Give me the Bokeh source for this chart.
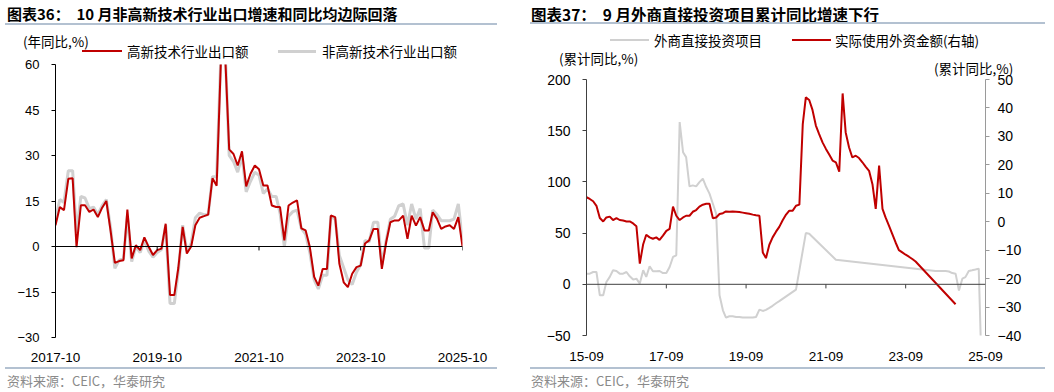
import pandas as pd
from bokeh.plotting import figure
from bokeh.models import (Range1d, LinearAxis, FixedTicker, DatetimeTickFormatter, Span,
                          ColumnDataSource, Div)
from bokeh.layouts import row, column
from bokeh.embed import file_html
from bokeh.resources import INLINE

CJK = "Noto Sans CJK SC"
LAT = "Liberation Sans"
RED = "#c00000"
GRAY = "#d0d0d0"
RULE = "#b3c1d1"


def month_seq(start, n):
    p0 = pd.Period(start, "M")
    return [(p0 + k).strftime("%Y-%m") for k in range(n)]


# ---------------- Chart 36 data (monthly, 2017-10 .. 2025-10) ----------------
title36 = "图表36：  10 月非高新技术行业出口增速和同比均边际回落"
unit36 = "(年同比,%)"
name_hi = "高新技术行业出口额"
name_non = "非高新技术行业出口额"
exp_start, exp_end = "2017-10", "2025-10"
hitech_exports = [7.0, 13.0, 12.0, 22.3, 22.5, -0.2, 13.6, 13.6, 11.4, 12.2, 9.7, 12.8, 15.0, 5.0,
                  -5.4, -4.8, -4.5, 12.2, -3.9, 0.4, -1.2, 3.0, -0.1, -2.8, -1.2, -0.7, 7.5, -16.0,
                  -16.0, -7.0, 6.5, -2.3, 0.0, 7.0, 9.5, 10.0, 10.5, 22.5, 20.0, 62.0, 62.0, 32.0,
                  30.5, 26.7, 31.4, 19.8, 24.0, 26.7, 25.5, 20.1, 20.1, 13.5, 13.0, 13.0, 2.0, 13.5,
                  14.5, 15.2, 6.0, 5.3, -0.2, -10.0, -12.9, -7.4, -7.4, 10.2, 9.7, -5.7, -11.8,
                  -13.4, -9.0, -6.8, -6.3, 1.0, 2.0, 5.8, 5.8, -7.4, 1.4, 8.0, 8.6, 8.6, 10.2, 2.5,
                  10.2, 6.9, 9.7, 5.3, 5.3, 11.3, 9.1, 5.8, 6.6, 7.0, 5.8, 9.7, 0.0]
nonhitech_exports = [9.0, 15.5, 14.5, 25.0, 25.0, 4.5, 16.5, 16.0, 12.5, 13.0, 10.5, 13.5, 15.5, 6.0,
                     -7.2, -4.5, -4.0, 10.0, -5.0, 0.0, -2.0, 2.0, -1.5, -3.5, -2.0, -1.0, 7.0,
                     -18.8, -18.8, -8.0, 7.0, -1.5, 1.0, 9.5, 11.0, 10.5, 10.5, 23.0, 23.0, 64.0,
                     64.0, 30.0, 28.0, 24.5, 30.0, 18.0, 21.5, 24.5, 23.5, 17.5, 19.0, 16.5, 16.5,
                     11.0, 0.0, 10.0, 11.5, 12.0, 6.0, 4.0, -2.0, -11.0, -14.0, -9.5, -9.5, 10.0,
                     9.0, -3.0, -7.0, -11.0, -12.5, -8.5, -6.0, 2.0, 1.5, 8.0, 8.0, -6.0, 2.0, 9.0,
                     10.0, 13.5, 14.0, 7.0, 14.0, 9.0, 12.5, -0.5, -0.5, 12.0, 10.5, 8.5, 8.5, 8.5,
                     9.0, 14.0, 2.0]
exp_months = month_seq(exp_start, len(hitech_exports))
exp_xticks = ["2017-10", "2019-10", "2021-10", "2023-10", "2025-10"]
exp_yticks = [-30, -15, 0, 15, 30, 45, 60]

# ---------------- Chart 37 data ----------------
title37 = "图表37：  9 月外商直接投资项目累计同比增速下行"
unit37 = "(累计同比,%)"
name_proj = "外商直接投资项目"
name_amt = "实际使用外资金额(右轴)"
source_text = "资料来源：CEIC，华泰研究"
fdi_start, fdi_end = "2015-09", "2025-09"
fdi_proj_months = (month_seq("2015-09", 59) + ["2020-12", "2021-03", "2021-04", "2021-12"]
                   + month_seq("2024-06", 15))
fdi_proj = [10.4, 10.4, 12.0, 12.0, -10.7, -10.7, 2.3, 7.2, 13.7, 13.0,
            10.4, 10.4, 12.0, 7.8, 4.6, 5.5, 0.7, 13.7, 7.2, 17.6,
            12.7, 12.7, 13.0, 11.0, 11.0, 16.9, 26.7, 28.3, 158.4, 129.0,
            124.2, 95.6, 96.6, 95.6, 99.8, 103.1, 95.0, 88.5, 78.7, 69.0,
            -10.7, -25.4, -32.5, -31.2, -31.2, -31.9, -31.9, -32.5, -32.5, -32.5,
            -32.5, -31.9, -24.7, -26.0, -25.0, -23.0, -21.0, -18.5, -16.5,
            -5.2, 50.0, 49.4, 24.0,
            13.0, 13.0, 13.0, 13.0, 12.5, 11.0, 10.4, -6.0, 5.5, 7.0, 13.0, 13.7, 14.5, 15.3,
            -100.0]
fdi_amt_months = month_seq("2015-09", 100) + ["2024-12"]
fdi_amt = [8.6, 8.0, 7.2, 5.6, 1.3, 0.1, 1.5, 1.8, 0.6, 1.3,
           0.6, 0.4, 0.1, 0.1, -0.6, -1.6, -14.7, -7.9, -4.6, -5.5,
           -6.0, -5.5, -6.4, -4.9, -3.2, -2.5, 5.3, 2.1, 0.6, 1.5,
           2.1, 2.1, 3.5, 4.1, 5.3, 6.0, 6.3, 6.3, 1.2, 1.5,
           2.7, 3.0, 3.6, 3.5, 3.6, 3.5, 3.4, 3.2, 3.0, 2.8,
           2.5, 2.3, 2.1, -10.8, -12.8, -8.1, -5.5, -3.5, -1.8,
           0.5, 2.5, 3.9, 3.9, 5.6, 6.0, 34.3, 43.7, 42.8, 39.3, 33.8, 30.8, 27.9, 25.6, 23.6,
           21.5, 20.9, 17.6, 45.1, 31.4, 26.1, 22.6, 23.2, 22.4, 20.9, 19.3, 17.9, 13.2, 4.5,
           19.7, 4.5, 1.5, -1.4, -4.3, -7.3, -10.0, -10.8, -11.6, -12.3, -13.1, -14.0,
           -29.0]
fdi_xticks = ["2015-09", "2017-09", "2019-09", "2021-09", "2023-09", "2025-09"]
fdi_yticks_left = [-50, 0, 50, 100, 150, 200]
fdi_yticks_right = [-40, -30, -20, -10, 0, 10, 20, 30, 40, 50]


def to_dt(ms):
    return pd.to_datetime(ms, format="%Y-%m")


def to_ms(ms):
    return [float(pd.Timestamp(m + "-01").value // 10**6) for m in ms]


def fmt(pattern):
    return DatetimeTickFormatter(years=pattern, months=pattern, days=pattern, hours=pattern,
                                 minutes=pattern, seconds=pattern, milliseconds=pattern,
                                 microseconds=pattern, hourmin=pattern, minsec=pattern)


def style_common(p):
    p.xgrid.visible = False
    p.ygrid.visible = False
    p.outline_line_color = None
    p.background_fill_color = "white"
    p.border_fill_alpha = 0


# ---------- HTML helpers for the texts around the plots ----------
def h_text(x, yc, text, size="13.5px", color="#000", bold=False, lh=16):
    w = "bold" if bold else "normal"
    return (f'<div style="position:absolute;left:{x}px;top:{yc - lh / 2}px;'
            f'font-family:\'{CJK}\';font-size:{size};font-weight:{w};line-height:{lh}px;'
            f'color:{color};white-space:pre;">{text}</div>')


def h_bar(x, yc, w, color, thick):
    return (f'<div style="position:absolute;left:{x}px;top:{yc - thick / 2}px;width:{w}px;'
            f'height:{thick}px;background:{color};"></div>')


def box(parts, h):
    html = (f'<div style="position:relative;width:527px;height:{h}px;margin:0;padding:0;'
            f'overflow:visible;">' + "".join(parts) + '</div>')
    return Div(text=html, width=527, height=h,
               styles={"margin": "0", "padding": "0", "overflow": "visible", "z-index": "5"})


hdr1 = box([h_text(7, 14, title36, "15px", bold=True, lh=20),
            h_bar(5, 24, 492, RULE, 2),
            h_text(23, 41, unit36),
            h_bar(82, 51, 40, RED, 2), h_text(127, 51, name_hi),
            h_bar(278, 51, 38, GRAY, 3), h_text(322, 51, name_non)], 57)
hdr2 = box([h_text(4, 14, title37, "15.5px", bold=True, lh=20),
            h_bar(3, 23, 515, RULE, 2),
            h_bar(83, 40, 39, GRAY, 2), h_text(127, 40, name_proj),
            h_bar(265, 40, 39, RED, 2), h_text(308, 40, name_amt),
            h_text(32, 58, unit37),
            h_text(407, 68, unit37)], 72)
ftr1 = box([h_bar(5, 368, 492, RULE, 2), h_text(7, 17, source_text, "13px", "#8a8a8a")][0:0]
           + [h_bar(5, 4, 492, RULE, 2), h_text(7, 17, source_text, "13px", "#8a8a8a")], 28)
ftr2 = box([h_bar(3, 4, 515, RULE, 2), h_text(4, 17, source_text, "13px", "#8a8a8a")], 28)

# ======================= Left figure =======================
p1 = figure(width=527, height=307, x_axis_type="datetime",
            x_range=Range1d(to_dt(exp_start), to_dt(exp_end)), y_range=Range1d(-30, 60),
            min_border_left=55, min_border_right=65, min_border_top=7, min_border_bottom=27,
            output_backend="svg", toolbar_location=None, frame_align=False)
style_common(p1)
src1 = ColumnDataSource(dict(x=to_dt(exp_months), hi=hitech_exports, non=nonhitech_exports))
p1.line("x", "non", source=src1, line_color=GRAY, line_width=3)
p1.line("x", "hi", source=src1, line_color=RED, line_width=2)

p1.add_layout(Span(location=0, dimension="width", line_color="black", line_width=1))
tk1 = to_dt(exp_xticks[1:])
p1.segment(x0=tk1, y0=[0] * len(tk1), x1=tk1, y1=[-1.3] * len(tk1), line_color="black",
           line_width=1)

xa = p1.xaxis[0]
xa.ticker = FixedTicker(ticks=to_ms(exp_xticks))
xa.formatter = fmt("%Y-%m")
xa.axis_line_color = None
xa.major_tick_line_color = None
xa.minor_tick_line_color = None
xa.major_label_standoff = 9
xa.major_label_text_font = LAT
xa.major_label_text_font_size = "13.5px"
xa.major_label_text_color = "black"

ya = p1.yaxis[0]
ya.ticker = FixedTicker(ticks=exp_yticks)
ya.axis_line_color = "black"
ya.major_tick_line_color = "black"
ya.major_tick_out = 4
ya.major_tick_in = 0
ya.minor_tick_line_color = None
ya.major_label_standoff = 12
ya.major_label_text_font = LAT
ya.major_label_text_font_size = "13px"
ya.major_label_text_color = "black"

# ======================= Right figure =======================
p2 = figure(width=527, height=292, x_axis_type="datetime",
            x_range=Range1d(to_dt(fdi_start), to_dt(fdi_end)), y_range=Range1d(-50, 200),
            min_border_left=59, min_border_right=69, min_border_top=7, min_border_bottom=29,
            output_backend="svg", toolbar_location=None, frame_align=False)
style_common(p2)
p2.extra_y_ranges = {"right": Range1d(-40, 50)}

p2.line(x=to_dt(fdi_proj_months), y=fdi_proj, line_color=GRAY, line_width=2)
p2.line(x=to_dt(fdi_amt_months), y=fdi_amt, line_color=RED, line_width=2, y_range_name="right")

p2.add_layout(Span(location=0, dimension="width", line_color="#404040", line_width=1))
tk2 = to_dt(fdi_xticks[1:])
p2.segment(x0=tk2, y0=[0] * len(tk2), x1=tk2, y1=[-4] * len(tk2), line_color="#404040",
           line_width=1)

xb = p2.xaxis[0]
xb.ticker = FixedTicker(ticks=to_ms(fdi_xticks))
xb.formatter = fmt("%y-%m")
xb.axis_line_color = None
xb.major_tick_line_color = None
xb.minor_tick_line_color = None
xb.major_label_standoff = 10
xb.major_label_text_font = LAT
xb.major_label_text_font_size = "13.5px"
xb.major_label_text_color = "black"

yb = p2.yaxis[0]
yb.ticker = FixedTicker(ticks=fdi_yticks_left)
yb.axis_line_color = "#404040"
yb.major_tick_line_color = "#404040"
yb.major_tick_out = 4
yb.major_tick_in = 0
yb.minor_tick_line_color = None
yb.major_label_standoff = 12
yb.major_label_text_font = LAT
yb.major_label_text_font_size = "14px"
yb.major_label_text_color = "black"

yr = LinearAxis(y_range_name="right", ticker=FixedTicker(ticks=fdi_yticks_right))
yr.axis_line_color = "#9a9a9a"
yr.major_tick_line_color = "#9a9a9a"
yr.major_tick_out = 4
yr.major_tick_in = 0
yr.minor_tick_line_color = None
yr.major_label_standoff = 8
yr.major_label_text_font = LAT
yr.major_label_text_font_size = "14px"
yr.major_label_text_color = "black"
p2.add_layout(yr, "right")

left_col = column(hdr1, p1, ftr1)
right_col = column(hdr2, p2, ftr2)
layout = row(left_col, right_col)
open("out.html", "w").write(file_html(layout, INLINE))
